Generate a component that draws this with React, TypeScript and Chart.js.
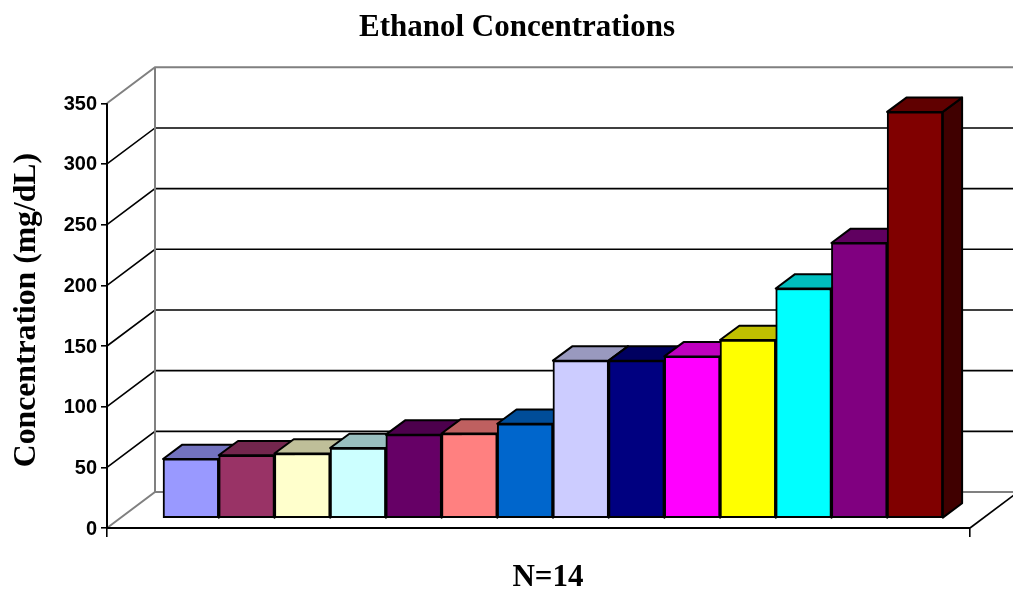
import React, { useEffect, useRef } from "react";
import { Chart, registerables } from "chart.js";

Chart.register(...registerables);

const chartTitle = "Ethanol Concentrations";
const xTitle = "N=14";
const yTitle = "Concentration (mg/dL)";
const concentrations = [49, 52, 53.5, 58, 69, 70, 78, 130, 130, 133.5, 147, 189.5, 227, 335];
const barColors = [
  "#9999FF", "#993366", "#FFFFCC", "#CCFFFF", "#660066", "#FF8080", "#0066CC",
  "#CCCCFF", "#000080", "#FF00FF", "#FFFF00", "#00FFFF", "#800080", "#800000",
];

const WALL_DX = 48;
const WALL_DY = 36;
const BAR_SHIFT_X = 13.3;
const BAR_SHIFT_Y = 9.6;
const BAR_DEPTH_X = 19.3;
const BAR_DEPTH_Y = 14.3;
const LINE = 1.6;
const BAR_LINE = 2;
const GREY = "#808080";

function shade(hex: string, f: number) {
  const n = parseInt(hex.slice(1), 16);
  const c = [(n >> 16) & 255, (n >> 8) & 255, n & 255].map((v) => Math.round(v * f));
  return `rgb(${c[0]},${c[1]},${c[2]})`;
}

function seg(ctx: CanvasRenderingContext2D, pts: number[][], color: string, width = LINE) {
  ctx.beginPath();
  pts.forEach((p, i) => (i ? ctx.lineTo(p[0], p[1]) : ctx.moveTo(p[0], p[1])));
  ctx.strokeStyle = color;
  ctx.lineWidth = width;
  ctx.stroke();
}

function poly(ctx: CanvasRenderingContext2D, pts: number[][], fill: string) {
  ctx.beginPath();
  pts.forEach((p, i) => (i ? ctx.lineTo(p[0], p[1]) : ctx.moveTo(p[0], p[1])));
  ctx.closePath();
  ctx.fillStyle = fill;
  ctx.fill();
  ctx.strokeStyle = "#000";
  ctx.lineWidth = BAR_LINE;
  ctx.lineJoin = "round";
  ctx.stroke();
}

const threeD = {
  id: "threeD",
  afterLayout(chart: any) {
    const x = chart.scales.x;
    const y = chart.scales.y;
    x.left += 9.5;
    x.right += 9.5;
    x.bottom += 5;
    y.top -= 5.6;
    y.bottom -= 5.6;
    if (chart.titleBlock) {
      chart.titleBlock.left += 32;
      chart.titleBlock.right += 32;
    }
  },
  beforeDatasetsDraw(chart: any) {
    const { ctx, chartArea: a, scales } = chart;
    const ys = scales.y;
    ctx.save();
    const backRight = a.right + WALL_DX;
    const backLeft = a.left + WALL_DX;
    ys.ticks.forEach((t: any) => {
      const py = ys.getPixelForValue(t.value);
      const edge = t.value === 0 || t.value === ys.max;
      const col = edge ? GREY : "#000";
      seg(ctx, [[a.left, py], [backLeft, py - WALL_DY], [backRight, py - WALL_DY]], col, edge ? 2 : LINE);
    });
    seg(ctx, [[backLeft, ys.getPixelForValue(ys.max) - WALL_DY], [backLeft, ys.getPixelForValue(0) - WALL_DY]], GREY, 2);
    const py0 = ys.getPixelForValue(0);
    seg(ctx, [[a.right, py0], [backRight, py0 - WALL_DY]], "#000");
    seg(ctx, [[a.left, ys.getPixelForValue(ys.max)], [a.left, py0]], "#000", 2);
    seg(ctx, [[a.left, py0], [a.right, py0]], "#000", 2);
    ctx.restore();
  },
  beforeDatasetDraw(chart: any, args: any) {
    const { ctx } = chart;
    const elements = args.meta.data;
    ctx.save();
    ctx.translate(BAR_SHIFT_X, -BAR_SHIFT_Y);
    elements.forEach((el: any, i: number) => {
      const p = el.getProps(["x", "y", "base", "width"], true);
      const l = p.x - p.width / 2;
      const r = p.x + p.width / 2;
      const c = barColors[i];
      poly(ctx, [[r, p.y], [r + BAR_DEPTH_X, p.y - BAR_DEPTH_Y], [r + BAR_DEPTH_X, p.base - BAR_DEPTH_Y], [r, p.base]], shade(c, 0.5));
      poly(ctx, [[l, p.y], [l + BAR_DEPTH_X, p.y - BAR_DEPTH_Y], [r + BAR_DEPTH_X, p.y - BAR_DEPTH_Y], [r, p.y]], shade(c, 0.75));
      el.draw(ctx);
    });
    ctx.restore();
    return false;
  },
};

export default function App() {
  const ref = useRef<HTMLCanvasElement>(null);
  useEffect(() => {
    const chart = new Chart(ref.current!, {
      type: "bar",
      data: {
        datasets: [
          {
            label: "Concentration",
            data: concentrations.map((v, i) => ({ x: i, y: v })),
            backgroundColor: barColors,
            borderColor: "#000",
            borderWidth: BAR_LINE,
            borderSkipped: false,
            barPercentage: 1,
            categoryPercentage: 1,
          },
        ],
      },
      options: {
        responsive: false,
        animation: false,
        layout: { padding: { left: 0, right: 43, top: 0, bottom: 0 } },
        plugins: {
          legend: { display: false },
          tooltip: { enabled: false },
          title: {
            display: true,
            text: chartTitle,
            color: "#000",
            font: { family: "'Liberation Serif'", size: 31, weight: "bold", lineHeight: 1.2 },
            padding: { top: 9.4, bottom: 56.7 },
          },
        },
        scales: {
          x: {
            type: "linear",
            offset: false,
            min: -1.267,
            max: 14.227,
            border: { display: false },
            grid: { offset: false, drawOnChartArea: false, drawTicks: true, tickLength: 9, color: "#000", lineWidth: LINE },
            ticks: { display: false },
            afterBuildTicks: (s: any) => {
              s.ticks = [{ value: s.min }, { value: s.max }];
            },
            afterFit: (s: any) => {
              s.height = 64;
            },
            title: {
              display: true,
              text: xTitle,
              color: "#000",
              font: { family: "'Liberation Serif'", size: 31, weight: "bold", lineHeight: 1.2 },
              padding: { top: 0, bottom: 0 },
            },
          },
          y: {
            min: 0,
            max: 350,
            border: { display: false },
            grid: { drawOnChartArea: false, drawTicks: true, tickLength: 6, color: "#000", lineWidth: LINE },
            ticks: {
              stepSize: 50,
              color: "#000",
              padding: 4,
              labelOffset: 1,
              font: { family: "'Liberation Sans'", size: 20, weight: "bold" },
            },
            afterFit: (s: any) => {
              s.width = 107;
            },
            title: {
              display: true,
              text: yTitle,
              color: "#000",
              font: { family: "'Liberation Serif'", size: 31.7, weight: "bold", lineHeight: 1.2 },
              padding: { top: 7.5, bottom: 0 },
            },
          },
        },
      },
      plugins: [threeD],
    } as any);
    return () => chart.destroy();
  }, []);
  return (
    <div style={{ position: "absolute", left: 0, top: 0, width: 1013, height: 592 }}>
      <canvas ref={ref} width={1013} height={592} style={{ display: "block" }} />
    </div>
  );
}
